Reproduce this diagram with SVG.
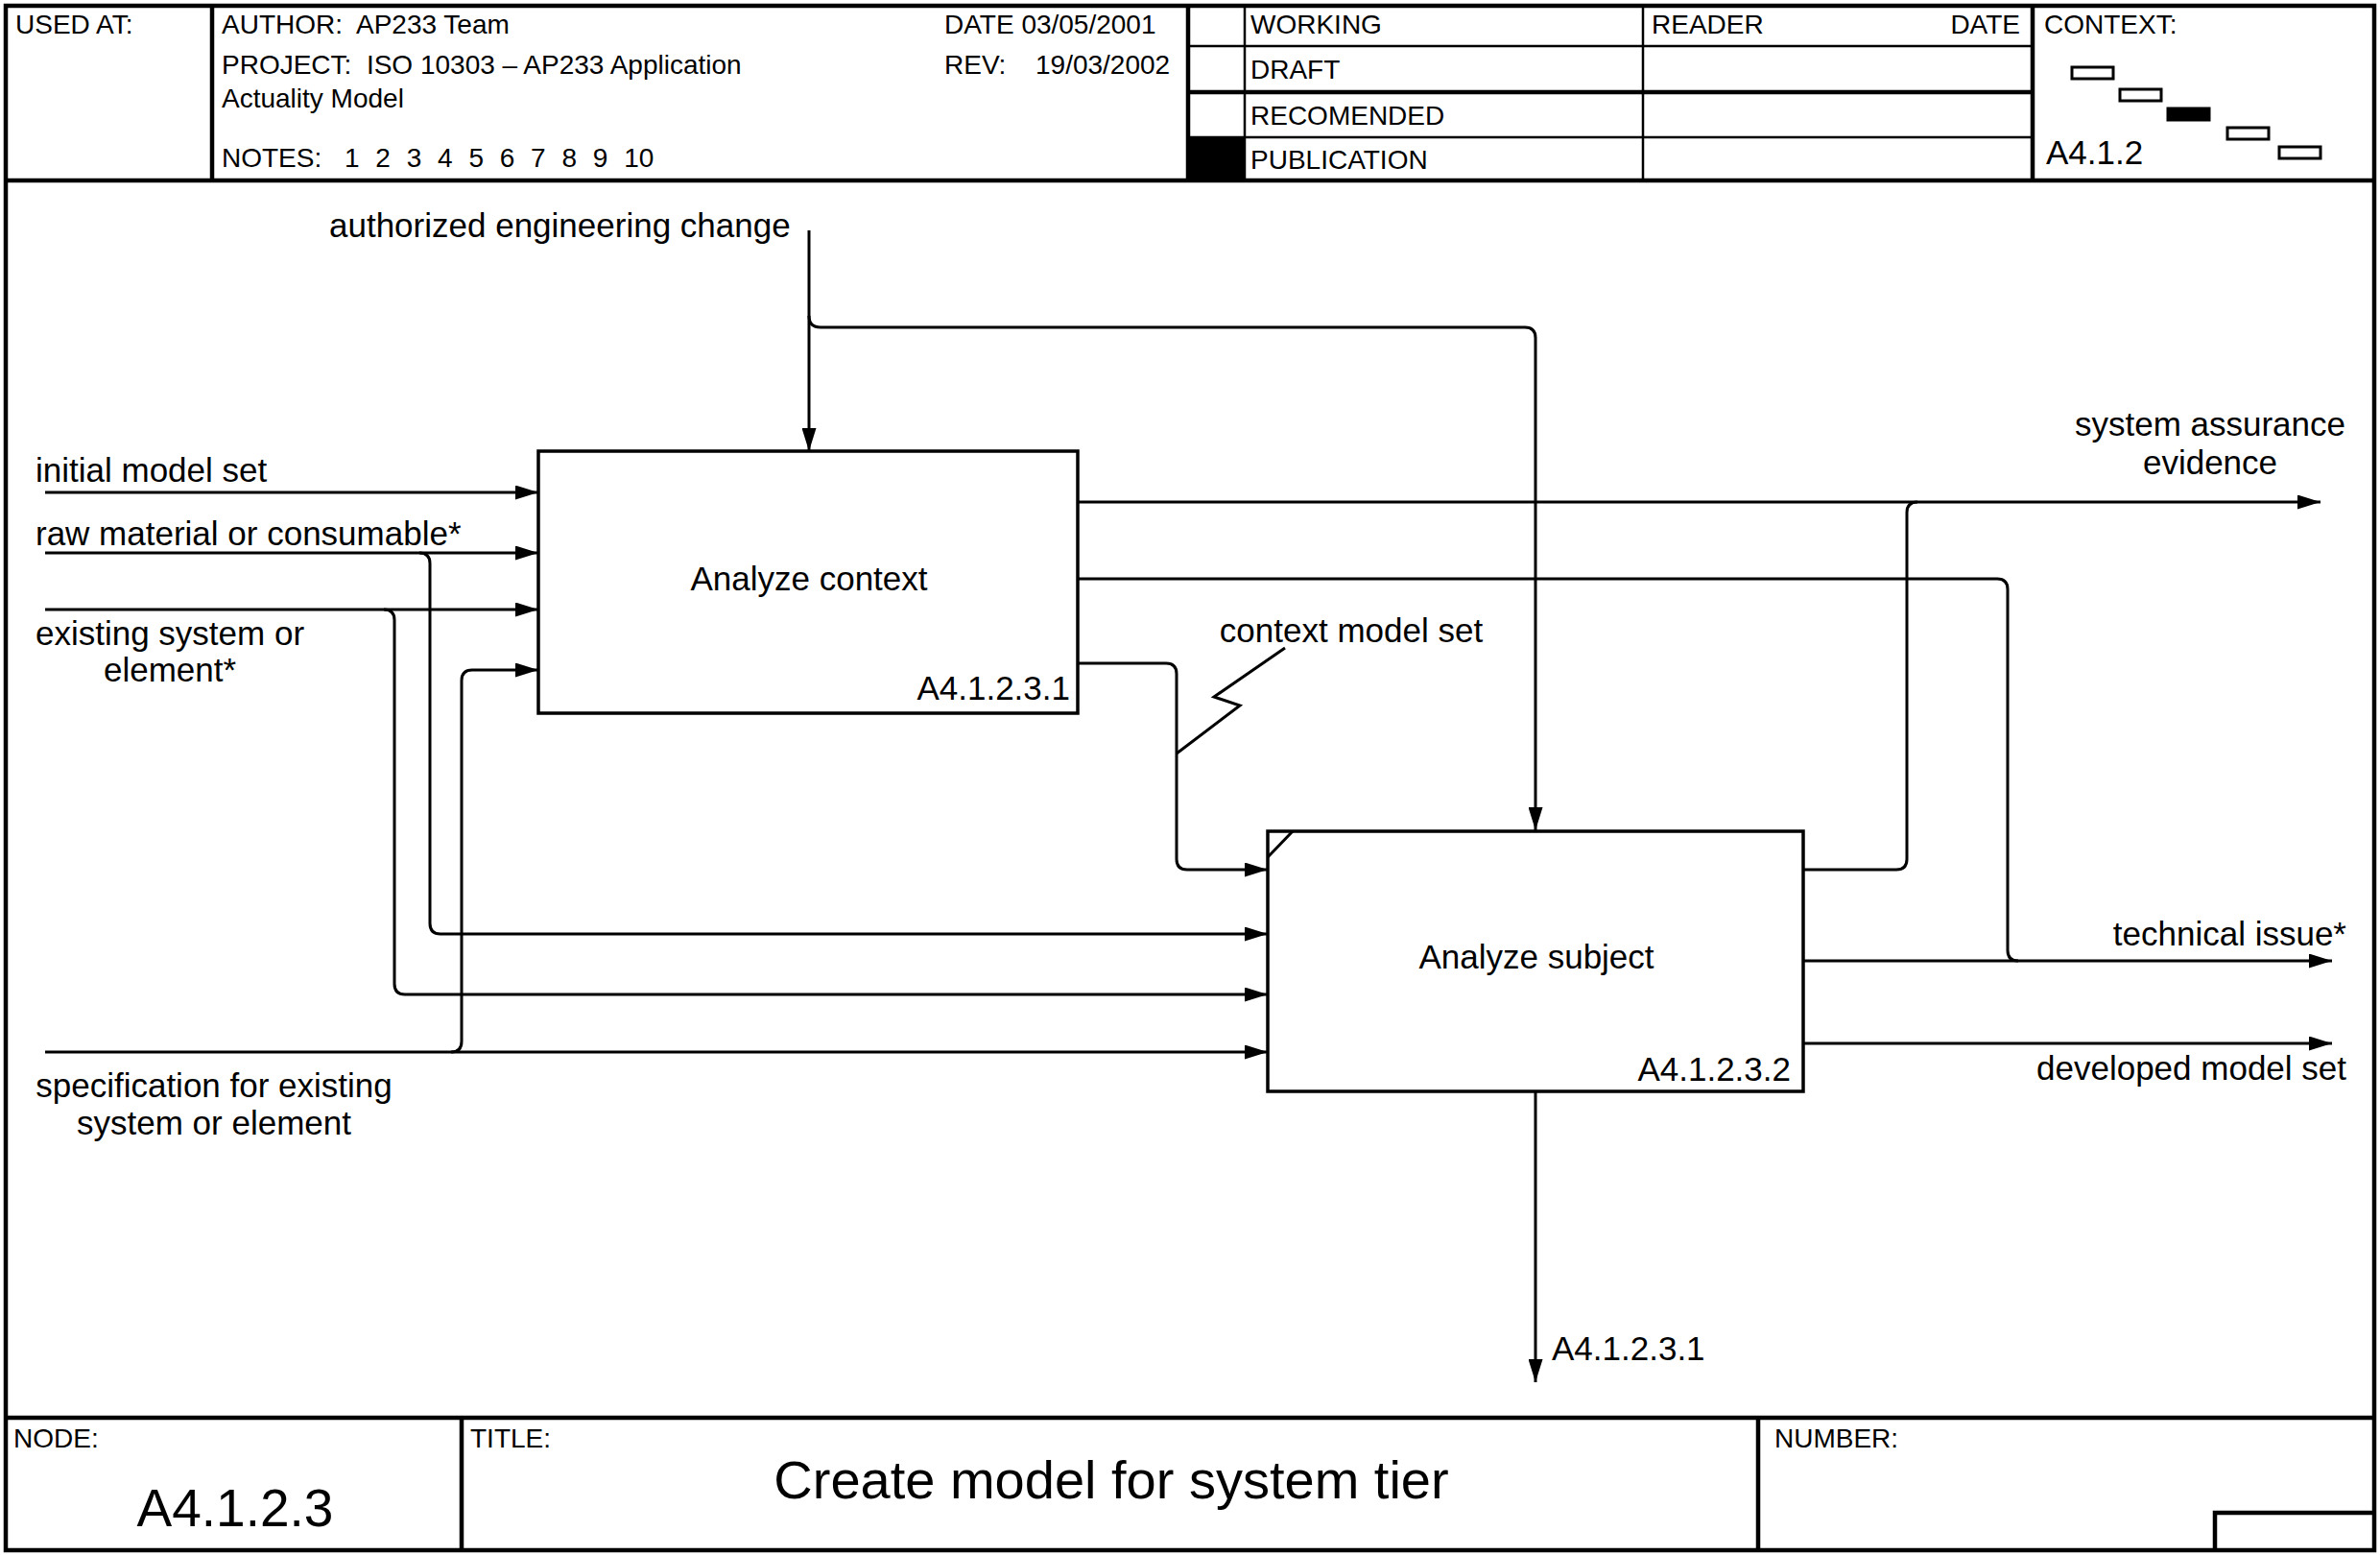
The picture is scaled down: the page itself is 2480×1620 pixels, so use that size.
<svg xmlns="http://www.w3.org/2000/svg" width="2480" height="1620" viewBox="0 0 2480 1620">
<style>
text{font-family:"Liberation Sans",Arial,sans-serif;fill:#000}
.h{font-size:28px}
.l{font-size:35px}
.frame{fill:none;stroke:#000;stroke-width:4.5}
.thin{fill:none;stroke:#000;stroke-width:2.5}
.box{fill:#fff;stroke:#000;stroke-width:3.5}
.c{fill:none;stroke:#000;stroke-width:3}
.ctx{fill:#fff;stroke:#000;stroke-width:3}
</style>
<defs>
<marker id="ah" markerUnits="userSpaceOnUse" markerWidth="24" markerHeight="15" refX="24" refY="7.5" orient="auto">
<path d="M0,0 L24,7.5 L0,15 Z" fill="#000"/>
</marker>
</defs>
<rect x="0" y="0" width="2480" height="1620" fill="#fff"/>
<g id="frame">
<rect class="frame" x="6" y="6" width="2468" height="1609"/>
<line class="frame" x1="6" y1="188" x2="2474" y2="188"/>
<line class="frame" x1="221" y1="6" x2="221" y2="188"/>
<line class="frame" x1="1238" y1="6" x2="1238" y2="188"/>
<line class="thin" x1="1297" y1="6" x2="1297" y2="188"/>
<line class="thin" x1="1712" y1="6" x2="1712" y2="188"/>
<line class="frame" x1="2118" y1="6" x2="2118" y2="188"/>
<line class="thin" x1="1238" y1="48" x2="2118" y2="48"/>
<line class="frame" x1="1238" y1="96" x2="2118" y2="96"/>
<line class="thin" x1="1238" y1="143" x2="2118" y2="143"/>
<rect x="1238" y="143" width="59" height="45" fill="#000"/>
<line class="frame" x1="6" y1="1477" x2="2474" y2="1477"/>
<line class="frame" x1="481" y1="1477" x2="481" y2="1615"/>
<line class="frame" x1="1832" y1="1477" x2="1832" y2="1615"/>
<polyline class="frame" points="2308,1615 2308,1576 2474,1576"/>
</g>
<g id="header-text">
<text class="h" x="16" y="35">USED AT:</text>
<text class="h" x="231" y="35" xml:space="preserve">AUTHOR:  AP233 Team</text>
<text class="h" x="984" y="35">DATE 03/05/2001</text>
<text class="h" x="231" y="77" xml:space="preserve">PROJECT:  ISO 10303 – AP233 Application</text>
<text class="h" x="984" y="77">REV:</text>
<text class="h" x="1079" y="77">19/03/2002</text>
<text class="h" x="231" y="112">Actuality Model</text>
<text class="h" x="231" y="174">NOTES: <tspan x="359" word-spacing="9">1 2 3 4 5 6 7 8 9 10</tspan></text>
<text class="h" x="1303" y="35">WORKING</text>
<text class="h" x="1303" y="82">DRAFT</text>
<text class="h" x="1303" y="130">RECOMENDED</text>
<text class="h" x="1303" y="176">PUBLICATION</text>
<text class="h" x="1721" y="35">READER</text>
<text class="h" x="2105" y="35" text-anchor="end">DATE</text>
<text class="h" x="2130" y="35">CONTEXT:</text>
<text class="l" x="2132" y="171">A4.1.2</text>
</g>
<g id="context-icon">
<rect class="ctx" x="2159" y="70" width="43" height="12"/>
<rect class="ctx" x="2209" y="93" width="43" height="12"/>
<rect x="2259" y="113" width="43" height="12" fill="#000" stroke="#000" stroke-width="3"/>
<rect class="ctx" x="2321" y="133" width="43" height="12"/>
<rect class="ctx" x="2375" y="153" width="43" height="12"/>
</g>
<g id="footer-text">
<text class="h" x="14" y="1508">NODE:</text>
<text x="245" y="1590" font-size="55" text-anchor="middle">A4.1.2.3</text>
<text class="h" x="490" y="1508">TITLE:</text>
<text x="1158" y="1561" font-size="56" text-anchor="middle">Create model for system tier</text>
<text class="h" x="1849" y="1508">NUMBER:</text>
</g>
<g id="connectors">
<path class="c" d="M843,240 L843,470" marker-end="url(#ah)"/>
<path class="c" d="M843,329 Q843,341 855,341 L1589,341 Q1600,341 1600,352 L1600,865" marker-end="url(#ah)"/>
<path class="c" d="M47,513 L561,513" marker-end="url(#ah)"/>
<path class="c" d="M47,576 L561,576" marker-end="url(#ah)"/>
<path class="c" d="M437,576 Q448,576 448,587 L448,962 Q448,973 459,973 L1321,973" marker-end="url(#ah)"/>
<path class="c" d="M47,635 L561,635" marker-end="url(#ah)"/>
<path class="c" d="M400,635 Q411,635 411,646 L411,1025 Q411,1036 422,1036 L1321,1036" marker-end="url(#ah)"/>
<path class="c" d="M47,1096 L1321,1096" marker-end="url(#ah)"/>
<path class="c" d="M470,1096 Q481,1096 481,1085 L481,709 Q481,698 492,698 L561,698" marker-end="url(#ah)"/>
<path class="c" d="M1123,691 L1215,691 Q1226,691 1226,702 L1226,895 Q1226,906 1237,906 L1321,906" marker-end="url(#ah)"/>
<path class="c" d="M1123,523 L2418,523" marker-end="url(#ah)"/>
<path class="c" d="M1123,603 L2081,603 Q2092,603 2092,614 L2092,990 Q2092,1001 2103,1001"/>
<path class="c" d="M1879,906 L1976,906 Q1987,906 1987,895 L1987,534 Q1987,523 1998,523"/>
<path class="c" d="M1879,1001 L2430,1001" marker-end="url(#ah)"/>
<path class="c" d="M1879,1087 L2430,1087" marker-end="url(#ah)"/>
<path class="c" d="M1600,1137 L1600,1440" marker-end="url(#ah)"/>
<polyline class="c" points="1226,785 1292,735 1265,726 1339,675"/>
</g>
<g id="connector-labels">
<text class="l" x="343" y="247">authorized engineering change</text>
<text class="l" x="37" y="502">initial model set</text>
<text class="l" x="37" y="568">raw material or consumable*</text>
<text class="l" x="177" y="672" text-anchor="middle">existing system or</text>
<text class="l" x="177" y="710" text-anchor="middle">element*</text>
<text class="l" x="223" y="1143" text-anchor="middle">specification for existing</text>
<text class="l" x="223" y="1182" text-anchor="middle">system or element</text>
<text class="l" x="1408" y="669" text-anchor="middle">context model set</text>
<text class="l" x="2303" y="454" text-anchor="middle">system assurance</text>
<text class="l" x="2303" y="494" text-anchor="middle">evidence</text>
<text class="l" x="2445" y="985" text-anchor="end">technical issue*</text>
<text class="l" x="2445" y="1125" text-anchor="end">developed model set</text>
<text class="l" x="1617" y="1417">A4.1.2.3.1</text>
</g>
<g id="node-A4.1.2.3.1">
<rect class="box" x="561" y="470" width="562" height="273"/>
<text class="l" x="843" y="615" text-anchor="middle">Analyze context</text>
<text class="l" x="1115" y="729" text-anchor="end">A4.1.2.3.1</text>
</g>
<g id="node-A4.1.2.3.2">
<rect class="box" x="1321" y="866" width="558" height="271"/>
<line class="c" x1="1321" y1="893" x2="1347" y2="866"/>
<text class="l" x="1601" y="1009" text-anchor="middle">Analyze subject</text>
<text class="l" x="1866" y="1126" text-anchor="end">A4.1.2.3.2</text>
</g>
</svg>
